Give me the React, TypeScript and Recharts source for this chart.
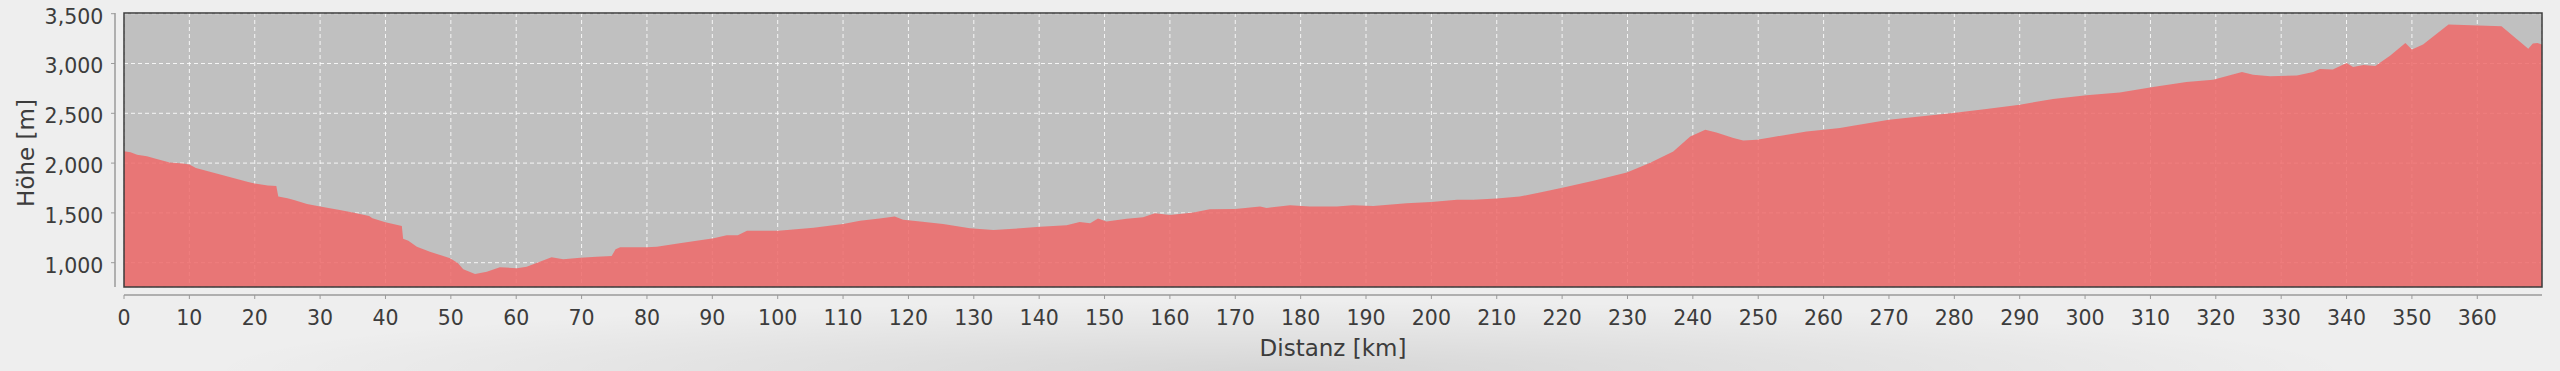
import React from "react";
import {
  AreaChart,
  Area,
  XAxis,
  YAxis,
  CartesianGrid,
  ReferenceArea,
  Label,
} from "recharts";

// Distance along the route [km]
const distanceKm = [
  0, 1, 2, 3.5, 5, 7, 9, 10, 11, 13, 15, 17, 19, 20, 22, 23.3, 23.6, 25, 26, 28,
  30, 33, 35, 37.5, 38, 40, 42.5, 42.7, 43.5, 44.8, 46.8, 49.9, 51.1, 51.9, 53.7,
  55.5, 57.5, 60.1, 61.6, 63.6, 65.4, 67.2, 69.8, 72.3, 74.6, 75.2, 75.9, 80,
  81.5, 85, 90.2, 92.2, 93.9, 95.3, 100.1, 105.5, 110, 112.6, 115.6, 117.9,
  119.2, 121.8, 125.3, 129.4, 133, 137.1, 140.1, 144.2, 146.2, 147.8, 149,
  150.3, 153.4, 155.9, 157.7, 160, 163.6, 166.1, 170, 173.8, 174.8, 178.4,
  181.4, 185.5, 188, 191.1, 196.2, 200, 203.9, 206.4, 210, 213.5, 216.6, 220.2,
  224.8, 229.9, 233.4, 237, 239.6, 241.9, 243.6, 246.2, 247.7, 249.8, 252.3,
  257.4, 260, 262.5, 264.5, 270, 274.7, 279.8, 284.9, 290, 295.1, 300.2, 305.3,
  310.4, 315.5, 319.6, 324, 325.7, 328.3, 332.4, 334.9, 335.9, 337.9, 340, 341,
  342.6, 344.4, 346.7, 349, 350, 351.7, 355.6, 363.7, 367.8, 368.5, 369.2,
  369.9,
];

// Elevation [m]
const elevationM = [
  2120, 2110, 2085, 2070, 2040, 2005, 1995, 1985, 1950, 1915, 1880, 1845, 1810,
  1795, 1775, 1770, 1665, 1648, 1630, 1590, 1563, 1530, 1505, 1470, 1446, 1406,
  1369, 1240, 1221, 1161, 1111, 1044, 994, 934, 887, 910, 954, 944, 960, 1010,
  1054, 1034, 1050, 1060, 1067, 1135, 1155, 1155, 1160, 1195, 1245, 1275, 1275,
  1322, 1322, 1352, 1389, 1420, 1443, 1463, 1432, 1413, 1389, 1346, 1329, 1346,
  1362, 1376, 1409, 1396, 1443, 1413, 1440, 1457, 1497, 1480, 1503, 1537, 1540,
  1563, 1550, 1577, 1563, 1563, 1577, 1570, 1597, 1610, 1631, 1631, 1644, 1664,
  1704, 1754, 1822, 1905, 2000, 2117, 2268, 2335, 2308, 2251, 2228, 2234, 2262,
  2318, 2335, 2352, 2375, 2436, 2469, 2503, 2543, 2587, 2644, 2680, 2710, 2765,
  2815, 2838, 2915, 2888, 2871, 2880, 2915, 2945, 2939, 3006, 2966, 2986, 2976,
  3080, 3207, 3140, 3190, 3391, 3374, 3147, 3200, 3207, 3190,
];

const xTicks = [
  0, 10, 20, 30, 40, 50, 60, 70, 80, 90, 100, 110, 120, 130, 140, 150, 160, 170,
  180, 190, 200, 210, 220, 230, 240, 250, 260, 270, 280, 290, 300, 310, 320,
  330, 340, 350, 360,
];
const yTicks = [1000, 1500, 2000, 2500, 3000, 3500];

const xDomain = [0, 369.9];
const yDomain = [756, 3507];

const data = distanceKm.map((km, i) => ({ km, ele: elevationM[i] }));

const FONT = '"DejaVu Sans", Verdana, sans-serif';
const TEXT = "#3c3c3c";
const AXIS = "#9a9a9a";

const fmt = (v: number) => v.toLocaleString("en-US");

const XTick = (props: any) => {
  const { x, y, payload } = props;
  const axisY = y - 4;
  return (
    <g>
      <line x1={x} x2={x} y1={axisY + 8} y2={axisY + 12} stroke={AXIS} />
      <text
        x={x}
        y={axisY + 38}
        textAnchor="middle"
        fontFamily={FONT}
        fontSize={20.5}
        fill={TEXT}
      >
        {payload.value}
      </text>
    </g>
  );
};

const YTick = (props: any) => {
  const { x, y, payload } = props;
  const axisX = x + 4;
  return (
    <g>
      <line x1={axisX - 9} x2={axisX - 13} y1={y} y2={y} stroke={AXIS} />
      <text
        x={axisX - 20.7}
        y={y + 10}
        textAnchor="end"
        fontFamily={FONT}
        fontSize={20.5}
        fill={TEXT}
      >
        {fmt(payload.value)}
      </text>
    </g>
  );
};

const XLabel = (props: any) => {
  const vb = props.viewBox;
  return (
    <text
      x={vb.x + vb.width / 2}
      y={vb.y + 69}
      textAnchor="middle"
      fontFamily={FONT}
      fontSize={23}
      fill={TEXT}
    >
      Distanz [km]
    </text>
  );
};

const YLabel = (props: any) => {
  const vb = props.viewBox;
  const cx = 33.5;
  const cy = vb.y + vb.height / 2 + 3;
  return (
    <text
      x={cx}
      y={cy}
      transform={`rotate(-90 ${cx} ${cy})`}
      textAnchor="middle"
      fontFamily={FONT}
      fontSize={23}
      fill={TEXT}
    >
      Höhe [m]
    </text>
  );
};

export default function App() {
  return (
    <div
      style={{
        position: "absolute",
        left: 0,
        top: 0,
        width: 2560,
        height: 371,
        background: "#eeeeee",
        overflow: "hidden",
      }}
    >
      <div
        style={{
          position: "absolute",
          left: 0,
          top: 300,
          width: 2560,
          height: 71,
          background:
            "radial-gradient(ellipse 42% 100% at 50% 100%, rgba(0,0,0,0.10), rgba(0,0,0,0) 100%)",
        }}
      />
      <div style={{ position: "absolute", left: 0, top: 0 }}>
        <AreaChart
          width={2560}
          height={371}
          data={data}
          margin={{ top: 13, right: 18, bottom: 0, left: 0 }}
        >
          <CartesianGrid
            fill="#c0c0c0"
            stroke="#ffffff"
            strokeOpacity={0.85}
            strokeDasharray="4 3"
          />
          <XAxis
            type="number"
            dataKey="km"
            domain={xDomain}
            ticks={xTicks}
            allowDataOverflow
            height={84}
            tickSize={4}
            tickMargin={0}
            tickLine={false}
            tick={<XTick />}
            axisLine={{ stroke: AXIS, strokeWidth: 1.5, transform: "translate(0,8)" }}
            interval={0}
          >
            <Label content={<XLabel />} />
          </XAxis>
          <YAxis
            type="number"
            domain={yDomain}
            ticks={yTicks}
            allowDataOverflow
            width={124}
            tickSize={4}
            tickMargin={0}
            tickLine={false}
            tick={<YTick />}
            axisLine={{ stroke: AXIS, strokeWidth: 1.5, transform: "translate(-9,0)" }}
            interval={0}
          >
            <Label content={<YLabel />} />
          </YAxis>
          <Area
            type="linear"
            dataKey="ele"
            stroke="none"
            fill="#ef6969"
            fillOpacity={0.85}
            isAnimationActive={false}
          />
          <ReferenceArea
            x1={xDomain[0]}
            x2={xDomain[1]}
            y1={yDomain[0]}
            y2={yDomain[1]}
            fill="none"
            stroke="#3a3a3a"
            strokeWidth={1.5}
            ifOverflow="visible"
          />
        </AreaChart>
      </div>
    </div>
  );
}
